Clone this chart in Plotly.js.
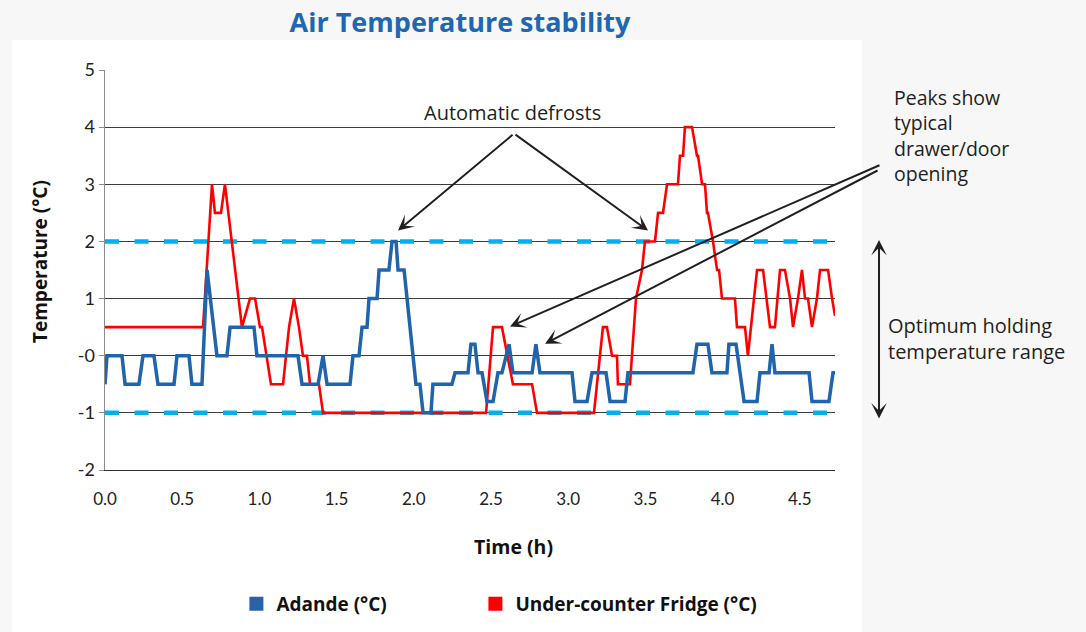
<!DOCTYPE html>
<html>
<head>
<meta charset="utf-8">
<script src="https://cdn.plot.ly/plotly-3.0.1.min.js"></script>
<style>html,body{margin:0;padding:0;background:#f7f7f7;}#chart{width:1086px;height:632px;}</style>
</head>
<body>
<div id="chart"></div>
<script>
// ---- data (hours, °C) ----
const adandeTime = [0.000,0.013,0.110,0.130,0.220,0.246,0.317,0.343,0.447,0.466,0.544,0.563,0.628,0.661,0.725,0.790,0.810,0.965,0.984,1.250,1.276,1.380,1.412,1.438,1.587,1.606,1.645,1.665,1.697,1.710,1.762,1.775,1.839,1.859,1.885,1.898,1.937,2.014,2.040,2.060,2.111,2.124,2.247,2.267,2.351,2.370,2.396,2.416,2.442,2.474,2.513,2.545,2.571,2.617,2.642,2.766,2.791,2.817,3.025,3.044,3.122,3.154,3.245,3.271,3.368,3.387,3.808,3.834,3.905,3.931,4.028,4.041,4.087,4.113,4.139,4.223,4.242,4.301,4.320,4.339,4.560,4.579,4.689,4.715,4.728];
const adandeTemp = [-0.5,0,0,-0.5,-0.5,0,0,-0.5,-0.5,0,0,-0.5,-0.5,1.5,0,0,0.5,0.5,0,0,-0.5,-0.5,0,-0.5,-0.5,0,0,0.5,0.5,1.0,1.0,1.5,1.5,2.0,2.0,1.5,1.5,-0.5,-0.5,-1,-1,-0.5,-0.5,-0.3,-0.3,0.2,0.2,-0.3,-0.3,-0.8,-0.8,-0.3,-0.3,0.2,-0.3,-0.3,0.2,-0.3,-0.3,-0.8,-0.8,-0.3,-0.3,-0.8,-0.8,-0.3,-0.3,0.2,0.2,-0.3,-0.3,0.2,0.2,-0.3,-0.8,-0.8,-0.3,-0.3,0.2,-0.3,-0.3,-0.8,-0.8,-0.3,-0.3];
const fridgeTime = [0,0.635,0.693,0.712,0.751,0.777,0.887,0.939,0.972,1.004,1.017,1.075,1.153,1.192,1.224,1.256,1.282,1.308,1.328,1.386,1.412,2.468,2.513,2.571,2.642,2.766,2.798,3.167,3.225,3.251,3.284,3.316,3.322,3.400,3.439,3.478,3.497,3.562,3.582,3.614,3.640,3.711,3.724,3.744,3.756,3.802,3.834,3.841,3.867,3.886,3.899,3.905,3.938,3.964,3.977,3.996,4.080,4.093,4.145,4.164,4.223,4.262,4.307,4.339,4.372,4.404,4.437,4.456,4.488,4.514,4.534,4.553,4.579,4.611,4.631,4.683,4.709,4.728];
const fridgeTemp = [0.5,0.5,3.0,2.5,2.5,3.0,0.5,1.0,1.0,0.5,0.5,-0.5,-0.5,0.5,1.0,0.5,0,0,-0.5,-0.5,-1,-1,0.5,0.5,-0.5,-0.5,-1,-1,0.5,0.5,0,0,-0.5,-0.5,1.0,1.5,2.0,2.0,2.5,2.5,3.0,3.0,3.5,3.5,4.0,4.0,3.5,3.5,3.0,3.0,2.5,2.5,2.0,1.5,1.5,1.0,1.0,0.5,0.5,0,1.5,1.5,0.5,0.5,1.5,1.5,1.0,0.5,1.0,1.5,1.0,1.0,0.5,1.0,1.5,1.5,1.0,0.7];
const rangeLimits = [2, -1];          // optimum holding range bounds
const limitSpan = [0, 4.728];         // time span of the limit lines
const yTickVals = [-2,-1,0,1,2,3,4,5];
const yTickText = ['-2','-1','-0','1','2','3','4','5'];
const xTickVals = [0,0.5,1,1.5,2,2.5,3,3.5,4,4.5];

const BLUE = '#1f64ad', RED = '#ff0000', CYAN = '#00b0f0', INK = '#231f20';

const traces = [];
rangeLimits.forEach(v => traces.push({
  x: limitSpan, y: [v, v], mode: 'lines', hoverinfo: 'skip', showlegend: false,
  line: {color: CYAN, width: 4.5, dash: '14px,15.5px'}
}));
traces.push({x: fridgeTime, y: fridgeTemp, mode: 'lines', name: 'Under-counter Fridge (°C)', showlegend: false,
  line: {color: RED, width: 2.6}});
traces.push({x: adandeTime, y: adandeTemp, mode: 'lines', name: 'Adande (°C)', showlegend: false,
  line: {color: BLUE, width: 3.5}});
// legend entries (square swatches)
traces.push({x: [null], y: [null], mode: 'markers', name: 'Adande (°C)', legend: 'legend',
  marker: {symbol: 'square', size: 14, color: '#2a63a5'}});
traces.push({x: [null], y: [null], mode: 'markers', name: 'Under-counter Fridge (°C)', legend: 'legend2',
  marker: {symbol: 'square', size: 14, color: RED}});

const annFont = {family: 'Open Sans, sans-serif', size: 20, color: INK};
const boldFont = (s) => ({family: 'Open Sans, sans-serif', size: s, color: '#111', weight: 'bold'});
const arrow = {text: '', showarrow: true, arrowhead: 3, arrowsize: 1.3, arrowwidth: 2, arrowcolor: INK};
const legendBase = {orientation: 'h', xanchor: 'left', y: -0.335, yanchor: 'middle',
  font: boldFont(19), bgcolor: 'rgba(0,0,0,0)'};

const layout = {
  width: 1086, height: 632,
  margin: {l: 105, r: 251, t: 70, b: 162, autoexpand: false},
  paper_bgcolor: '#f7f7f7', plot_bgcolor: '#ffffff',
  showlegend: true,
  title: {text: 'Air Temperature stability', font: {family: 'Open Sans, sans-serif', size: 27, color: '#1f67b1', weight: 'bold'},
    xref: 'container', x: 0.4236, xanchor: 'center', yref: 'container', y: 0.965, yanchor: 'middle'},
  xaxis: {range: [0, 4.728], tickvals: xTickVals, tickformat: '.1f', showgrid: false, zeroline: false,
    showline: true, linecolor: '#333', linewidth: 1, ticks: '', ticklabelstandoff: 14,
    tickfont: {family: 'Lato, sans-serif', size: 17, color: '#222'}, fixedrange: true},
  yaxis: {range: [-2, 5], tickvals: yTickVals, ticktext: yTickText, showgrid: true, gridcolor: '#3c3c3c', gridwidth: 1,
    zeroline: false, showline: true, linecolor: '#8c8c8c', linewidth: 1.5, ticks: 'outside', ticklen: 5, tickcolor: '#8c8c8c',
    tickfont: {family: 'Lato, sans-serif', size: 18, color: '#222'}, fixedrange: true},
  legend: Object.assign({}, legendBase, {x: 0.180}),
  legend2: Object.assign({}, legendBase, {x: 0.5074}),
  shapes: [
    {type: 'rect', xref: 'paper', yref: 'paper', x0: -0.1274, x1: 1.037, y0: -0.43, y1: 1.075,
      fillcolor: '#ffffff', line: {width: 0}, layer: 'below'}
  ],
  annotations: [
    {text: 'Automatic defrosts', xref: 'x', yref: 'y', x: 2.642, y: 4.25, xanchor: 'center', yanchor: 'middle',
      showarrow: false, font: annFont},
    Object.assign({}, arrow, {xref: 'x', yref: 'y', x: 1.898, y: 2.19, ax: 116, ay: -97}),
    Object.assign({}, arrow, {xref: 'x', yref: 'y', x: 3.517, y: 2.19, ax: -134, ay: -97}),
    Object.assign({}, arrow, {xref: 'x', yref: 'y', x: 2.623, y: 0.51, ax: 371, ay: -162}),
    Object.assign({}, arrow, {xref: 'x', yref: 'y', x: 2.85, y: 0.21, ax: 334, ay: -174}),
    Object.assign({}, arrow, {xref: 'paper', yref: 'paper', x: 1.0603, y: 0.575, ax: 0, ay: 180,
      arrowside: 'end+start', startarrowhead: 3, startarrowsize: 1.3}),
    {text: 'Peaks show<br>typical<br>drawer/door<br>opening', xref: 'paper', yref: 'paper', x: 1.078, y: 0.969,
      xanchor: 'left', yanchor: 'top', align: 'left', showarrow: false,
      font: {family: 'Open Sans, sans-serif', size: 19.5, color: INK}},
    {text: 'Optimum holding<br>temperature range', xref: 'paper', yref: 'paper', x: 1.07, y: 0.33,
      xanchor: 'left', yanchor: 'middle', align: 'left', showarrow: false, font: annFont},
    {text: 'Time (h)', xref: 'paper', yref: 'paper', x: 0.559, y: -0.19, xanchor: 'center', yanchor: 'middle',
      showarrow: false, font: boldFont(19.5)},
    {text: 'Temperature (°C)', xref: 'paper', yref: 'paper', x: -0.089, y: 0.52, xanchor: 'center', yanchor: 'middle',
      textangle: -90, showarrow: false, font: boldFont(19)}
  ]
};

Plotly.newPlot('chart', traces, layout, {displayModeBar: false, staticPlot: true});
</script>
</body>
</html>
